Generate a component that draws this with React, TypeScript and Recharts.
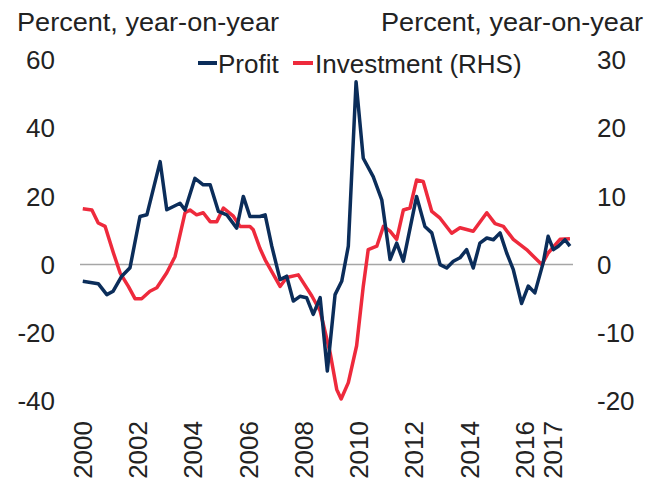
import React from "react";
import { LineChart, Line, XAxis, YAxis, ReferenceLine, Customized } from "recharts";

// Industrial profit growth (left axis), percent y/y
const profitDates = [
  2000.0, 2000.56, 2000.87, 2001.1, 2001.41, 2001.71, 2002.07, 2002.32, 2002.8, 2003.04,
  2003.52, 2003.7, 2004.06, 2004.36, 2004.61, 2004.91, 2005.21, 2005.57, 2005.81, 2006.05,
  2006.41, 2006.6, 2006.84, 2007.14, 2007.38, 2007.62, 2007.86, 2008.1, 2008.34, 2008.59,
  2008.85, 2009.13, 2009.37, 2009.61, 2009.89, 2010.15, 2010.51, 2010.82, 2011.12, 2011.36,
  2011.6, 2012.08, 2012.38, 2012.63, 2012.93, 2013.17, 2013.41, 2013.65, 2013.89, 2014.13,
  2014.37, 2014.62, 2014.86, 2015.1, 2015.34, 2015.58, 2015.88, 2016.12, 2016.36, 2016.66,
  2016.84, 2017.03, 2017.21, 2017.45, 2017.63,
];
const profitValues = [
  -4.9, -5.6, -8.8, -7.8, -3.4, -0.9, 14.1, 14.6, 30.2, 16.1,
  18, 16, 25.3, 23.4, 23.4, 15.6, 14.6, 10.7, 20, 14.1,
  14.1, 14.6, 5.4, -4.4, -3.4, -10.7, -9.3, -9.7, -14.6, -9.7,
  -31.2, -8.8, -4.9, 5.4, 53.6, 31.2, 25.8, 19, 1.5, 6.3,
  1, 20, 11.2, 9.3, 0, -1, 1, 2, 4.4, -1,
  6.3, 7.8, 7.3, 9.3, 3.4, -1.5, -11.4, -6.3, -8.3, 0.5,
  8.3, 4.4, 5.4, 7.3, 5.4,
];

// Fixed-asset investment growth (right axis), percent y/y
const investDates = [
  2000.0, 2000.33, 2000.56, 2000.81, 2001.11, 2001.35, 2001.65, 2001.89, 2002.13, 2002.43,
  2002.68, 2003.04, 2003.34, 2003.7, 2003.88, 2004.12, 2004.36, 2004.61, 2004.85, 2005.09,
  2005.45, 2005.69, 2006.05, 2006.17, 2006.41, 2006.6, 2007.14, 2007.38, 2007.8, 2008.29,
  2008.59, 2008.95, 2009.19, 2009.35, 2009.61, 2009.91, 2010.15, 2010.33, 2010.64, 2010.88,
  2011.12, 2011.36, 2011.6, 2011.84, 2012.08, 2012.32, 2012.63, 2012.93, 2013.35, 2013.65,
  2014.13, 2014.62, 2014.92, 2015.22, 2015.58, 2016.06, 2016.61, 2016.84, 2017.27, 2017.63,
];
const investValues = [
  8.2, 8.0, 6.1, 5.6, 1.7, -1.2, -3.2, -5.0, -5.0, -3.9,
  -3.4, -1.2, 1.2, 7.6, 8.0, 7.3, 7.6, 6.3, 6.3, 8.3,
  7.1, 5.6, 5.6, 5.1, 2.4, 0.7, -3.2, -1.9, -1.5, -4.6,
  -6.8, -12.9, -18.3, -19.7, -17.3, -11.9, -3.2, 2.2, 2.7, 5.6,
  4.9, 3.7, 8.0, 8.3, 12.4, 12.2, 7.8, 6.8, 4.6, 5.4,
  4.9, 7.6, 6.0, 5.6, 3.7, 2.2, 0, 1.7, 3.7, 3.8,
];

const xTicks = [2000, 2002, 2004, 2006, 2008, 2010, 2012, 2014, 2016, 2017];
const leftTicks = [-40, -20, 0, 20, 40, 60];
const rightTicks = [-20, -10, 0, 10, 20, 30];
const axisTitle = "Percent, year-on-year";
const profitName = "Profit";
const investName = "Investment (RHS)";

const profitData = profitDates.map((x, i) => ({ x, v: profitValues[i] }));
const investData = investDates.map((x, i) => ({ x, v: investValues[i] }));

const NAVY = "#0b2d5a";
const RED = "#ee2a3c";
const TEXT = "#222222";
const FONT = "'Liberation Sans', Arial, sans-serif";
const FS = 26;

const LeftTick = (props: any) => (
  <text x={55} y={props.y} dy="0.35em" textAnchor="end" fontSize={FS} fontFamily={FONT} fill={TEXT}>
    {props.payload.value}
  </text>
);
const RightTick = (props: any) => (
  <text x={597} y={props.y} dy="0.35em" textAnchor="start" fontSize={FS} fontFamily={FONT} fill={TEXT}>
    {props.payload.value}
  </text>
);
const XTick = (props: any) => (
  <text
    transform={`translate(${props.x},421) rotate(-90)`}
    dy="0.35em"
    textAnchor="end"
    fontSize={FS}
    fontFamily={FONT}
    fill={TEXT}
  >
    {props.payload.value}
  </text>
);

const Overlay = () => (
  <g fontFamily={FONT} fill={TEXT}>
    <text x={17} y={31} fontSize={FS} textLength={262} lengthAdjust="spacingAndGlyphs">
      {axisTitle}
    </text>
    <text x={643} y={31} fontSize={FS} textAnchor="end" textLength={262} lengthAdjust="spacingAndGlyphs">
      {axisTitle}
    </text>
    <line x1={198} x2={217} y1={63} y2={63} stroke={NAVY} strokeWidth={4} />
    <text x={218} y={73} fontSize={FS}>{profitName}</text>
    <line x1={293} x2={313} y1={63} y2={63} stroke={RED} strokeWidth={4} />
    <text x={315} y={73} fontSize={FS}>{investName}</text>
  </g>
);

export default function App() {
  return (
    <div style={{ position: "absolute", left: 0, top: 0, width: 648, height: 485, background: "#fff" }}>
      <LineChart width={648} height={485} margin={{ top: 60, right: 0, bottom: 0, left: 0 }}>
        <XAxis
          type="number"
          dataKey="x"
          domain={[1999.9, 2017.74]}
          ticks={xTicks}
          interval={0}
          axisLine={false}
          tickLine={false}
          height={84}
          tick={XTick}
          allowDataOverflow
        />
        <YAxis
          yAxisId="left"
          domain={[-40, 60]}
          ticks={leftTicks}
          interval={0}
          axisLine={false}
          tickLine={false}
          width={80}
          tick={LeftTick}
        />
        <YAxis
          yAxisId="right"
          orientation="right"
          domain={[-20, 30]}
          ticks={rightTicks}
          interval={0}
          axisLine={false}
          tickLine={false}
          width={75}
          tick={RightTick}
        />
        <ReferenceLine yAxisId="left" y={0} stroke="#a6a6a6" strokeWidth={1.5} />
        <Line
          yAxisId="right"
          data={investData}
          dataKey="v"
          name={investName}
          type="linear"
          stroke={RED}
          strokeWidth={3.5}
          dot={false}
          isAnimationActive={false}
          strokeLinejoin="round"
        />
        <Line
          yAxisId="left"
          data={profitData}
          dataKey="v"
          name={profitName}
          type="linear"
          stroke={NAVY}
          strokeWidth={3.5}
          dot={false}
          isAnimationActive={false}
          strokeLinejoin="round"
        />
        <Customized component={Overlay} />
      </LineChart>
    </div>
  );
}
